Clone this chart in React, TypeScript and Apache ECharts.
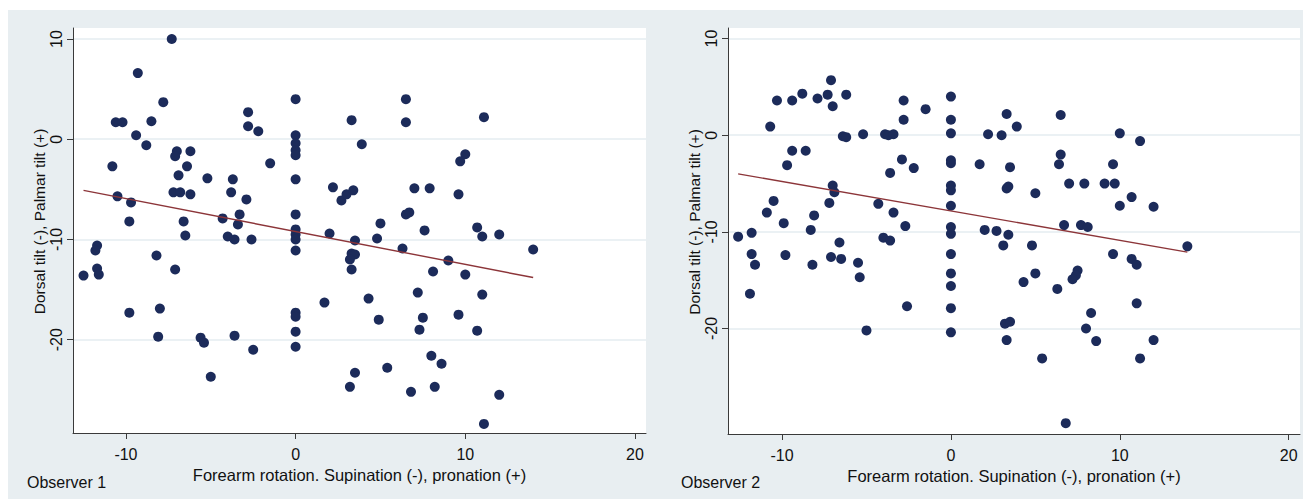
import React, { useEffect, useRef } from "react";
import * as echarts from "echarts";

const xTicks = [-10, 0, 10, 20];
const yTicks = [-20, -10, 0, 10];

const panelLabels = ["Observer 1", "Observer 2"];
const xTitle = "Forearm rotation. Supination (-), pronation (+)";
const yTitle = "Dorsal tilt (-), Palmar tilt (+)";

// Observer 1 scatter
const obs1X = [
  -7.3, -9.3, -7.8, 0, -10.6, -10.2, -8.5, -9.4, -8.8, -2.8, -2.8, -2.2, 0, 0, 0, 0,
  -7.0, -7.1, -6.2, -10.8, -6.4, -6.9, -5.2, -1.5, 0, -3.7, -7.2, -6.8, -6.2, -3.8,
  -10.5, -9.7, -2.9, -9.8, -6.6, -3.3, -3.4, -4.3, 0, -6.5, -4.0, -3.6, -2.6, 0, 0, 0,
  2.2, 2.0, -11.7, -11.8, -8.2, 0, -7.1, -12.5, -11.7, -11.6, -9.8, -8.0, 1.7, 0, 0, 0,
  0, -8.1, -5.6, -5.4, -3.6, -2.5, -5.0, 6.5, 3.3, 6.5, 11.1, 3.9, 10.0, 9.7, 2.7, 3.0,
  3.4, 7.0, 7.9, 9.6, 6.5, 6.7, 5.0, 4.8, 7.6, 10.7, 11.0, 12.0, 3.5, 6.3, 14.0, 3.3,
  3.5, 3.2, 3.3, 9.0, 8.1, 10.0, 4.3, 7.2, 11.0, 4.9, 7.5, 7.3, 9.6, 10.7, 8.0, 8.6,
  5.4, 3.5, 3.2, 6.8, 8.2, 12.0, 11.1,
];
const obs1Y = [
  10.0, 6.6, 3.7, 4.0, 1.7, 1.7, 1.8, 0.4, -0.6, 2.7, 1.3, 0.8, 0.4, -0.4, -1.1, -1.6,
  -1.2, -1.7, -1.2, -2.7, -2.7, -3.6, -3.9, -2.4, -4.0, -4.0, -5.3, -5.3, -5.5, -5.3,
  -5.7, -6.3, -6.0, -8.2, -8.2, -7.5, -8.5, -7.9, -7.5, -9.6, -9.7, -10.0, -10.0, -9.0, -9.5, -10.0,
  -4.8, -9.4, -10.6, -11.1, -11.6, -11.1, -13.0, -13.6, -12.9, -13.5, -17.3, -16.9, -16.3, -17.3, -17.7, -19.2,
  -20.7, -19.7, -19.8, -20.3, -19.6, -21.0, -23.7, 4.0, 1.9, 1.7, 2.2, -0.5, -1.5, -2.2, -6.1, -5.5,
  -5.1, -4.9, -4.9, -5.5, -7.5, -7.3, -8.4, -9.9, -9.1, -8.8, -9.7, -9.5, -10.1, -10.9, -11.0, -11.4,
  -11.5, -12.0, -13.0, -12.1, -13.2, -13.5, -15.9, -15.3, -15.5, -18.0, -17.8, -19.0, -17.5, -19.1, -21.6, -22.4,
  -22.8, -23.3, -24.7, -25.2, -24.7, -25.5, -28.4,
];

// Observer 2 scatter
const obs2X = [
  -7.1, -8.8, -7.3, -6.2, -7.9, -7.0, -10.3, -9.4, -10.7, -9.4, -8.6, -9.7, -6.4, -6.2, -5.2, -3.9,
  -3.7, -3.4, -2.8, -2.8, -1.5, 0, 0, 0, 0, 0, -2.9, -2.2, -3.6, 1.7, -7.0, -6.9,
  0, 0, 0, -10.5, -10.9, -7.2, -4.3, -3.4, -9.9, -8.1, -8.3, -2.7, 0, 0, -12.6, -11.8,
  -4.0, -3.6, -6.6, -11.8, -11.6, -9.8, -8.2, -7.1, -6.5, -5.5, -5.4, -11.9, -2.6, -5.0, 0, 0,
  0, 0, 0, 3.3, 6.5, 3.9, 2.2, 3.0, 10.0, 11.2, 3.5, 6.5, 6.4, 9.6, 3.3, 3.4,
  5.0, 7.0, 7.9, 9.1, 9.7, 10.0, 10.7, 12.0, 2.0, 2.7, 3.4, 6.7, 7.7, 8.1, 3.1, 4.8,
  14.0, 9.6, 10.7, 11.0, 5.0, 4.3, 6.3, 7.5, 7.4, 7.2, 11.0, 8.3, 8.0, 3.2, 3.5, 3.3,
  8.6, 12.0, 5.4, 11.2, 6.8,
];
const obs2Y = [
  5.7, 4.3, 4.2, 4.2, 3.8, 3.0, 3.6, 3.6, 0.9, -1.6, -1.6, -3.1, -0.1, -0.2, 0.1, 0.1,
  0.0, 0.1, 3.6, 1.6, 2.7, 4.0, 1.6, 0.2, -2.6, -2.9, -2.5, -3.4, -3.9, -3.0, -5.2, -5.9,
  -5.2, -5.7, -7.3, -6.8, -8.0, -7.0, -7.1, -8.0, -9.1, -8.3, -9.8, -9.4, -9.5, -10.2, -10.5, -10.1,
  -10.6, -10.9, -11.1, -12.3, -13.4, -12.4, -13.4, -12.6, -12.8, -13.2, -14.7, -16.4, -17.7, -20.2, -12.3, -14.3,
  -15.6, -17.9, -20.4, 2.2, 2.1, 0.9, 0.1, 0.0, 0.2, -0.6, -3.3, -2.0, -3.0, -3.0, -5.5, -5.3,
  -6.0, -5.0, -5.0, -5.0, -5.0, -7.3, -6.4, -7.4, -9.8, -9.9, -10.3, -9.3, -9.3, -9.5, -11.4, -11.4,
  -11.5, -12.3, -12.8, -13.4, -14.3, -15.2, -15.9, -14.0, -14.5, -14.9, -17.4, -18.4, -20.0, -19.5, -19.3, -21.2,
  -21.3, -21.2, -23.1, -23.1, -29.8,
];

// Linear fit lines (end points)
const fit1X = [-12.5, 14.0];
const fit1Y = [-5.1, -13.8];
const fit2X = [-12.6, 14.0];
const fit2Y = [-4.0, -12.1];

const pairs = (xs: number[], ys: number[]) => xs.map((x, i) => [x, ys[i]]);

export default function App() {
  const ref = useRef<HTMLDivElement>(null);
  useEffect(() => {
    const chart = echarts.init(ref.current!, null, { renderer: "svg" });
    const font = "'Liberation Sans', Arial, Helvetica, sans-serif";
    const bg = "#e8eef1";
    const axisColor = "#3a3a3a";
    const gridColor = "#e4edf0";
    const dotColor = "#1c2b5a";
    const lineColor = "#8c3539";

    const grids = [
      { left: 73, top: 28, width: 573, height: 405 },
      { left: 728, top: 28, width: 572, height: 406 },
    ];
    const ranges = [
      { xmin: -13.12, xmax: 20.65, ymin: -29.31, ymax: 11.1 },
      { xmin: -13.2, xmax: 20.67, ymin: -30.92, ymax: 11.1 },
    ];
    const scatterData = [pairs(obs1X, obs1Y), pairs(obs2X, obs2Y)];
    const fitData = [pairs(fit1X, fit1Y), pairs(fit2X, fit2Y)];

    const option: any = {
      animation: false,
      backgroundColor: bg,
      textStyle: { fontFamily: font },
      grid: grids.map((g) => ({
        ...g,
        show: true,
        backgroundColor: "#ffffff",
        borderWidth: 0,
        containLabel: false,
      })),
      xAxis: ranges.map((r, i) => ({
        type: "value",
        gridIndex: i,
        min: r.xmin,
        max: r.xmax,
        axisLine: { show: true, onZero: false, lineStyle: { color: axisColor, width: 1 } },
        axisTick: { show: true, length: 6, customValues: xTicks, lineStyle: { color: axisColor } },
        axisLabel: {
          customValues: xTicks,
          margin: 13,
          fontSize: 16,
          color: "#111",
          fontFamily: font,
        },
        splitLine: { show: false },
        name: xTitle,
        nameLocation: "middle",
        nameGap: 29,
        nameTextStyle: { fontSize: 16.5, color: "#111", fontFamily: font },
      })),
      yAxis: ranges.map((r, i) => ({
        type: "value",
        gridIndex: i,
        min: r.ymin,
        max: r.ymax,
        axisLine: { show: true, onZero: false, lineStyle: { color: axisColor, width: 1 } },
        axisTick: { show: true, length: 6, customValues: yTicks, lineStyle: { color: axisColor } },
        axisLabel: {
          customValues: yTicks,
          rotate: 90,
          margin: 9,
          fontSize: 16,
          color: "#111",
          fontFamily: font,
        },
        splitLine: { show: true, lineStyle: { color: gridColor, width: 1.5 } },
        name: yTitle,
        nameLocation: "middle",
        nameRotate: 90,
        nameGap: 26,
        nameTextStyle: { fontSize: 15.5, color: "#111", fontFamily: font, padding: [0, 0, 0, 18] },
      })),
      series: [
        ...scatterData.map((d, i) => ({
          type: "scatter",
          xAxisIndex: i,
          yAxisIndex: i,
          data: d,
          symbol: "circle",
          symbolSize: 10,
          itemStyle: { color: dotColor, opacity: 1 },
          silent: true,
          z: 3,
        })),
        ...fitData.map((d, i) => ({
          type: "line",
          xAxisIndex: i,
          yAxisIndex: i,
          data: d,
          showSymbol: false,
          symbol: "none",
          lineStyle: { color: lineColor, width: 1.4 },
          silent: true,
          z: 4,
        })),
      ],
      graphic: [
        { type: "rect", shape: { x: 0, y: 0, width: 1303, height: 10 }, style: { fill: "#ffffff" }, silent: true },
        { type: "rect", shape: { x: 0, y: 0, width: 8, height: 499 }, style: { fill: "#ffffff" }, silent: true },
        {
          type: "text",
          left: 27,
          top: 474,
          style: { text: panelLabels[0], fontSize: 16, fill: "#111", fontFamily: font },
        },
        {
          type: "text",
          left: 681,
          top: 474,
          style: { text: panelLabels[1], fontSize: 16, fill: "#111", fontFamily: font },
        },
      ],
    };
    chart.setOption(option);
    return () => chart.dispose();
  }, []);
  return (
    <div
      ref={ref}
      style={{ position: "fixed", left: 0, top: 0, width: 1303, height: 499 }}
    />
  );
}
